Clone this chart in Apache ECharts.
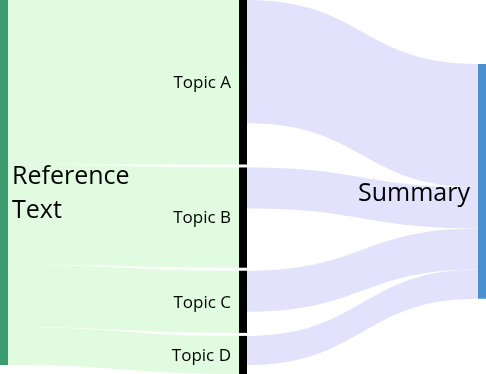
<!DOCTYPE html>
<html>
<head>
<meta charset="utf-8">
<script src="https://cdn.jsdelivr.net/npm/echarts@6/dist/echarts.min.js"></script>
<style>html,body{margin:0;padding:0;background:#fff}#c{width:486px;height:374px}</style>
</head>
<body>
<div id="c"></div>
<script>
const source = 'Reference Text';
const target = 'Summary';
const topics = ['Topic A', 'Topic B', 'Topic C', 'Topic D'];
const inValues = [164, 100, 62, 38];
const outValues = [123, 41, 41, 29];

const nodes = [
  {name: source, itemStyle: {color: '#3c9c70'},
   label: {position: 'right', fontSize: 25, formatter: 'Reference\nText', lineHeight: 34, distance: 4, offset: [0, 11]}},
  ...topics.map(t => ({name: t, itemStyle: {color: '#000000'},
   label: {position: 'left', fontSize: 17, distance: 8, offset: [0, 1]}})),
  {name: target, itemStyle: {color: '#4a90d0'},
   label: {position: 'left', fontSize: 25, distance: 8, offset: [0, 13]}}
];
const links = [];
topics.forEach((t, i) => links.push({source: source, target: t, value: inValues[i], lineStyle: {color: '#e0fbe0'}}));
topics.forEach((t, i) => links.push({source: t, target: target, value: outValues[i], lineStyle: {color: '#e2e2fc'}}));

const chart = echarts.init(document.getElementById('c'));
chart.setOption({
  animation: false,
  series: [{
    type: 'sankey',
    left: 0, right: 0, top: 0, bottom: 0,
    nodeWidth: 8,
    nodeGap: 3,
    nodeAlign: 'justify',
    draggable: false,
    emphasis: {disabled: true},
    label: {color: '#000', fontFamily: 'Open Sans'},
    lineStyle: {opacity: 1, curveness: 0.5},
    data: nodes,
    links: links
  }]
});
</script>
</body>
</html>
